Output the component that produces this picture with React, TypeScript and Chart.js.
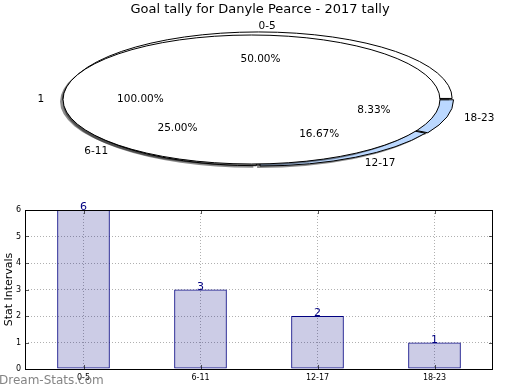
import React, { useEffect, useRef } from 'react';
import { Chart, registerables } from 'chart.js';

Chart.register(...registerables);

// ---------- data ----------
const chartTitle = 'Goal tally for Danyle Pearce - 2017 tally';
const categories = ['0-5', '6-11', '12-17', '18-23'];
const tallies = [6, 3, 2, 1];
const sliceColors = ['#ffffff', '#ffffff', '#bbd8ff', '#bbd8ff'];
const wholeLabels = ['1'];
const wholeValues = [1];
const yTickValues = [0, 1, 2, 3, 4, 5, 6];
const yAxisTitle = 'Stat Intervals';
const watermark = 'Dream-Stats.com';

const FONT = "'DejaVu Sans', sans-serif";

// ---------- pie (elliptical, matplotlib-like) ----------
const SLICE_DX = -1.5;
const SLICE_SX = 1.003;
const SLICE_SY = 1.015;
const DISC_DX = -8.5;
const DISC_SX = 0.992;

function geom(chart: any, index: number) {
  const ca = chart.chartArea;
  const a = (ca.right - ca.left) / 2;
  const b = (ca.bottom - ca.top) / 2;
  const cx = (ca.left + ca.right) / 2;
  const cy = (ca.top + ca.bottom) / 2;
  if (index === 1) return { cx: cx + DISC_DX, cy, a: a * DISC_SX, b };
  return { cx: cx + SLICE_DX, cy, a: a * SLICE_SX, b: b * SLICE_SY };
}

function applyT(ctx: CanvasRenderingContext2D, g: any, ref: any) {
  const R = ref.outerRadius;
  ctx.translate(g.cx, g.cy);
  ctx.scale(g.a / R, g.b / R);
  ctx.translate(-ref.x, -ref.y);
}

function mapPt(g: any, ref: any, px: number, py: number) {
  const R = ref.outerRadius;
  return { x: g.cx + ((px - ref.x) * g.a) / R, y: g.cy + ((py - ref.y) * g.b) / R };
}

const pieShapePlugin = {
  id: 'pieShape',
  beforeDatasetDraw(chart: any, args: any) {
    const ref = args.meta.data[0];
    if (!ref) return;
    const ctx = chart.ctx;
    const g = geom(chart, args.index);
    ctx.save();
    applyT(ctx, g, ref);
    ctx.shadowColor = 'rgba(0,0,0,0.45)';
    ctx.shadowOffsetX = -3;
    ctx.shadowOffsetY = 2;
    ctx.shadowBlur = 0;
  },
  afterDatasetDraw(chart: any, args: any) {
    const ctx = chart.ctx;
    ctx.restore();
    const ref = args.meta.data[0];
    if (!ref) return;
    const g = geom(chart, args.index);
    const single = args.meta.data.length === 1;
    args.meta.data.forEach((el: any) => {
      const { x, y, startAngle, endAngle, innerRadius, outerRadius, circumference } = el;
      const off = (el.options.offset || 0) / 4;
      const mid = (startAngle + endAngle) / 2;
      const fix = 1 - Math.sin(Math.min(Math.PI, circumference || 0));
      const ro = off * fix;
      const ox = x + Math.cos(mid) * off;
      const oy = y + Math.sin(mid) * off;
      ctx.save();
      applyT(ctx, g, ref);
      ctx.beginPath();
      if (single && innerRadius <= 0.5) {
        ctx.arc(ox, oy, outerRadius + ro, 0, 2 * Math.PI);
        ctx.closePath();
      } else {
        ctx.arc(ox, oy, outerRadius + ro, startAngle, endAngle);
        if (innerRadius > 0) ctx.arc(ox, oy, innerRadius + ro, endAngle, startAngle, true);
        else ctx.lineTo(ox, oy);
        ctx.closePath();
      }
      ctx.restore();
      ctx.lineWidth = 1;
      ctx.strokeStyle = '#000';
      ctx.stroke();
    });
  },
  afterDraw(chart: any) {
    const ctx = chart.ctx;
    ctx.save();
    ctx.fillStyle = '#000';
    ctx.font = `10.5px ${FONT}`;
    [0, 1].forEach((di) => {
      const meta = chart.getDatasetMeta(di);
      const ref = meta.data[0];
      if (!ref) return;
      const g = geom(chart, di);
      const ds = chart.data.datasets[di];
      const total = ds.data.reduce((s: number, v: number) => s + v, 0);
      meta.data.forEach((el: any, i: number) => {
        const mid = (el.startAngle + el.endAngle) / 2;
        const off = (el.options.offset || 0) / 4;
        const c = Math.cos(mid);
        const s = Math.sin(mid);
        const R = ref.outerRadius;
        const name = mapPt(g, ref, el.x + c * (1.1 * R + off), el.y + s * (1.1 * R + off));
        const pct = mapPt(g, ref, el.x + c * (0.6 * R + off), el.y + s * (0.6 * R + off));
        ctx.textBaseline = 'middle';
        ctx.textAlign = c > -1e-6 ? 'left' : 'right';
        ctx.fillText(ds.sliceLabels[i], name.x, name.y);
        ctx.textAlign = 'center';
        ctx.fillText(((ds.data[i] / total) * 100).toFixed(2) + '%', pct.x + 2, pct.y);
      });
    });
    ctx.restore();
  },
};

// ---------- bar helpers ----------
const framePlugin = {
  id: 'frame',
  afterDatasetsDraw(chart: any) {
    const ctx = chart.ctx;
    const { left, right, top, bottom } = chart.chartArea;
    const ys = chart.scales.y;
    const xs = chart.scales.x;
    ctx.save();
    ctx.strokeStyle = 'rgba(0,0,0,0.65)';
    ctx.lineWidth = 1;
    ctx.beginPath();
    ys.ticks.forEach((t: any) => {
      const py = Math.round(ys.getPixelForValue(t.value)) + 0.5;
      ctx.moveTo(left, py);
      ctx.lineTo(left + 4, py);
      ctx.moveTo(right - 4, py);
      ctx.lineTo(right, py);
    });
    categories.forEach((_, i) => {
      const px = Math.round(xs.getPixelForValue(i)) + 0.5;
      ctx.moveTo(px, bottom);
      ctx.lineTo(px, bottom - 4);
      ctx.moveTo(px, top);
      ctx.lineTo(px, top + 4);
    });
    ctx.stroke();
    ctx.strokeStyle = '#000';
    ctx.strokeRect(Math.round(left) + 0.5, Math.round(top) + 0.5, Math.round(right - left) - 1, Math.round(bottom - top));
    // value labels
    const meta = chart.getDatasetMeta(0);
    ctx.fillStyle = '#000080';
    ctx.font = `11px ${FONT}`;
    ctx.textAlign = 'center';
    ctx.textBaseline = 'alphabetic';
    meta.data.forEach((el: any, i: number) => {
      ctx.fillText(String(tallies[i]), el.x, el.y);
    });
    ctx.restore();
  },
  afterDraw(chart: any) {
    const ctx = chart.ctx;
    ctx.save();
    ctx.fillStyle = 'rgba(110,110,110,0.85)';
    ctx.font = `12px ${FONT}`;
    ctx.textAlign = 'left';
    ctx.textBaseline = 'middle';
    ctx.fillText(watermark, -1, chart.height - 9);
    ctx.restore();
  },
};

export default function App() {
  const pieRef = useRef<HTMLCanvasElement>(null);
  const barRef = useRef<HTMLCanvasElement>(null);

  useEffect(() => {
    const revLabels = [...categories].reverse();
    const revValues = [...tallies].reverse();
    const revColors = [...sliceColors].reverse();

    const pie = new Chart(pieRef.current as HTMLCanvasElement, {
      type: 'pie',
      data: {
        labels: revLabels,
        datasets: [
          {
            data: revValues,
            sliceLabels: revLabels,
            backgroundColor: revColors,
            borderWidth: 0,
            offset: 4,
            weight: 0.15,
            order: 1,
          } as any,
          {
            data: wholeValues,
            sliceLabels: wholeLabels,
            backgroundColor: ['#ffffff'],
            borderWidth: 0,
            weight: 0.85,
            order: 0,
          } as any,
        ],
      },
      options: {
        animation: false,
        responsive: false,
        devicePixelRatio: 1,
        rotation: 90,
        layout: { padding: { left: 70, right: 70, top: 0, bottom: 26 } },
        plugins: {
          legend: { display: false },
          tooltip: { enabled: false },
          title: {
            display: true,
            text: chartTitle,
            color: '#000',
            font: { family: FONT, size: 13, weight: 'normal' as any },
            padding: { top: 2, bottom: 17.4 },
          },
        },
      },
      plugins: [pieShapePlugin],
    });

    const bar = new Chart(barRef.current as HTMLCanvasElement, {
      type: 'bar',
      data: {
        labels: categories,
        datasets: [
          {
            data: tallies,
            backgroundColor: 'rgba(0,0,128,0.2)',
            borderColor: '#000080',
            borderWidth: 1,
            borderSkipped: false,
            barPercentage: 0.45,
            categoryPercentage: 1,
          },
        ],
      },
      options: {
        animation: false,
        responsive: false,
        devicePixelRatio: 1,
        layout: { padding: { left: 0, right: 27, top: 20, bottom: 0 } },
        plugins: { legend: { display: false }, tooltip: { enabled: false } },
        scales: {
          x: {
            grid: { offset: false, color: '#b0b0b0', drawTicks: false, lineWidth: 1 },
            border: { display: false, dash: [1, 2] },
            ticks: { font: { family: FONT, size: 8 }, color: '#000', padding: 4, maxRotation: 0 },
            afterFit: (s: any) => {
              s.height = 21;
            },
          },
          y: {
            min: 0,
            max: 6,
            afterBuildTicks: (s: any) => {
              s.ticks = yTickValues.map((v) => ({ value: v }));
            },
            grid: { color: '#b0b0b0', drawTicks: false, lineWidth: 1 },
            border: { display: false, dash: [1, 2] },
            ticks: { font: { family: FONT, size: 8 }, color: '#000', padding: 4 },
            title: {
              display: true,
              text: yAxisTitle,
              color: '#000',
              font: { family: FONT, size: 11 },
              padding: { top: 3, bottom: 0 },
            },
            afterFit: (s: any) => {
              s.width = 25;
            },
          },
        },
      },
      plugins: [framePlugin],
    });

    return () => {
      pie.destroy();
      bar.destroy();
    };
  }, []);

  return (
    <div style={{ position: 'absolute', left: 0, top: 0, width: 520, height: 390, background: '#fff' }}>
      <canvas ref={pieRef} width={520} height={190} style={{ position: 'absolute', left: 0, top: 0 }} />
      <canvas ref={barRef} width={520} height={200} style={{ position: 'absolute', left: 0, top: 190 }} />
    </div>
  );
}
